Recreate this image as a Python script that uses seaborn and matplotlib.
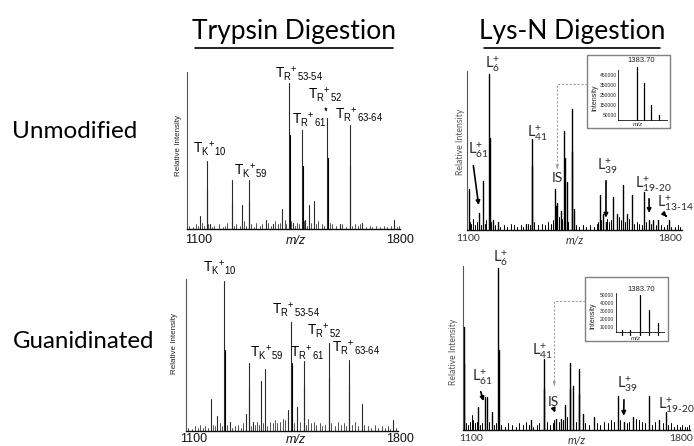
import numpy as np
import pandas as pd
import seaborn as sns
import matplotlib.pyplot as plt
from matplotlib.lines import Line2D
from matplotlib.patches import Rectangle, FancyArrowPatch

# ---- data (relative intensity in % of axis height, m/z) ----

# Trypsin, unmodified
tu_mz = [1103, 1127, 1138, 1214, 1251, 1273, 1333, 1358, 1389, 1414, 1426, 1459, 1470, 1483, 1499, 1547, 1591, 1625, 1669, 1779]
tu_int = [8, 43, 3, 31, 15, 31, 6, 3, 13, 93, 4, 63, 6, 15, 18, 71, 3, 66, 4, 6]
tu_iso_mz = [1129, 1216, 1275, 1416, 1461, 1549, 1627]
tu_iso_int = [25, 18, 18, 60, 40, 45, 40]
tu_noise_mz = [1066, 1079, 1090, 1097, 1110, 1116, 1133, 1145, 1152, 1171,
               1183, 1190, 1199, 1222, 1230, 1242, 1258, 1265, 1281, 1290,
               1300, 1312, 1321, 1340, 1349, 1366, 1374, 1381, 1398, 1404,
               1420, 1433, 1441, 1448, 1464, 1477, 1490, 1507, 1516, 1528,
               1537, 1555, 1563, 1578, 1599, 1611, 1633, 1645, 1652, 1661,
               1680, 1694, 1703, 1718, 1731, 1744, 1756, 1767, 1788, 1795]
tu_noise_int = [2, 1, 3, 2, 4, 2, 3, 1, 2, 3,
                1, 2, 4, 2, 3, 2, 5, 2, 3, 1,
                4, 2, 3, 4, 2, 5, 3, 4, 6, 3,
                5, 2, 4, 3, 5, 2, 4, 3, 5, 3,
                2, 4, 3, 2, 3, 1, 2, 3, 2, 3,
                1, 2, 1, 2, 1, 2, 1, 2, 1, 2]

# Lys-N, unmodified
lu_mz = [1104, 1138, 1153, 1174, 1188, 1205, 1301, 1321, 1403, 1410, 1421, 1433, 1442, 1459,
         1468, 1557, 1569, 1578, 1604, 1615, 1638, 1650, 1667, 1710, 1728, 1742, 1759, 1796]
lu_int = [26, 11, 31, 98, 6, 5, 4, 57, 26, 17, 12, 62, 30, 76,
          13, 22, 10, 5, 21, 10, 28, 10, 22, 24, 6, 6, 6, 6]
lu_iso_mz = [1176, 1323, 1405, 1435, 1461]
lu_iso_int = [58, 40, 15, 45, 50]
lu_noise_mz = [1108, 1112, 1118, 1125, 1131, 1145, 1158, 1164, 1180, 1195,
               1212, 1224, 1236, 1248, 1259, 1270, 1282, 1292, 1309, 1315,
               1330, 1342, 1355, 1366, 1378, 1388, 1395, 1415, 1426, 1448,
               1474, 1486, 1498, 1510, 1522, 1535, 1546, 1552, 1562, 1583,
               1588, 1596, 1622, 1630, 1645, 1658, 1674, 1684, 1694, 1703,
               1718, 1735, 1750, 1768, 1780, 1790, 1805, 1818, 1828, 1836]
lu_noise_int = [5, 4, 7, 3, 5, 3, 4, 6, 5, 3,
                2, 3, 2, 4, 3, 2, 3, 2, 4, 3,
                5, 3, 4, 3, 5, 4, 6, 8, 7, 5,
                3, 2, 3, 2, 3, 2, 4, 5, 6, 7,
                5, 6, 8, 6, 5, 7, 4, 5, 4, 3,
                5, 4, 3, 3, 2, 3, 2, 2, 3, 2]

# Trypsin, guanidinated
gu_mz = [1140, 1162, 1185, 1205, 1262, 1271, 1285, 1313, 1327, 1409, 1420, 1441, 1463, 1551, 1621, 1666, 1774]
gu_int = [21, 10, 99, 6, 11, 45, 6, 33, 41, 14, 72, 16, 46, 58, 47, 18, 7]
gu_iso_mz = [1187, 1273, 1422, 1465, 1553, 1623]
gu_iso_int = [53, 28, 45, 30, 35, 30]
gu_noise_mz = [1060, 1072, 1085, 1094, 1103, 1112, 1120, 1131, 1148, 1155,
               1170, 1178, 1195, 1213, 1222, 1233, 1244, 1252, 1280, 1293,
               1300, 1306, 1320, 1336, 1345, 1356, 1364, 1372, 1381, 1392,
               1400, 1430, 1450, 1471, 1480, 1489, 1498, 1508, 1520, 1528,
               1538, 1560, 1572, 1583, 1594, 1604, 1612, 1631, 1643, 1652,
               1675, 1688, 1700, 1712, 1723, 1736, 1748, 1758, 1766, 1786]
gu_noise_int = [2, 1, 3, 2, 4, 2, 3, 2, 4, 3,
                5, 3, 4, 2, 3, 4, 2, 5, 3, 4,
                6, 4, 5, 3, 6, 5, 7, 5, 6, 8,
                7, 5, 6, 4, 8, 5, 6, 4, 5, 3,
                4, 5, 3, 6, 4, 5, 3, 4, 6, 3,
                4, 3, 2, 4, 2, 3, 2, 3, 1, 2]

# Lys-N, guanidinated
lg_mz = [1073, 1121, 1143, 1152, 1166, 1188, 1296, 1340, 1382, 1399, 1410,
         1427, 1438, 1458, 1471, 1507, 1588, 1608, 1638, 1693, 1727, 1749]
lg_int = [63, 14, 20, 20, 11, 99, 6, 43, 7, 7, 15,
          41, 27, 37, 10, 8, 21, 5, 8, 21, 6, 11]
lg_iso_mz = [1075, 1190, 1342, 1429, 1460]
lg_iso_int = [40, 49, 25, 25, 22]
lg_noise_mz = [1080, 1088, 1095, 1104, 1110, 1116, 1128, 1134, 1158, 1174,
               1180, 1198, 1210, 1222, 1234, 1246, 1258, 1270, 1282, 1290,
               1305, 1318, 1326, 1352, 1362, 1370, 1390, 1404, 1418, 1447,
               1480, 1492, 1518, 1530, 1542, 1555, 1566, 1576, 1597, 1618,
               1626, 1648, 1658, 1668, 1678, 1702, 1712, 1738, 1758, 1768,
               1777, 1786, 1795, 1804, 1812, 1820, 1826, 1100, 1376, 1650]
lg_noise_int = [4, 3, 5, 6, 4, 5, 3, 4, 5, 3,
                4, 3, 2, 4, 3, 2, 4, 3, 5, 3,
                2, 3, 4, 5, 3, 4, 5, 6, 8, 5,
                4, 3, 4, 3, 5, 4, 6, 5, 6, 4,
                5, 4, 6, 5, 4, 3, 5, 4, 3, 4,
                2, 3, 2, 3, 2, 2, 3, 9, 6, 7]

# insets (internal standard isotope cluster)
ins_u_mz = [1383.70, 1384.70, 1385.70, 1386.70]
ins_u_int = [524000, 364000, 147000, 47000]
ins_u_ticks = [50000, 150000, 250000, 350000, 450000]
ins_g_mz = [1381.76, 1382.60, 1383.70, 1384.70, 1385.70]
ins_g_int = [6500, 6200, 50000, 32000, 16000]
ins_g_ticks = [10000, 20000, 30000, 40000, 50000]

# ---- figure ----
sns.set_theme(style='white')
plt.rcParams['font.family'] = ['Liberation Sans', 'DejaVu Sans']
plt.rcParams['mathtext.default'] = 'regular'

W, H = 694, 446
fig = plt.figure(figsize=(W / 100, H / 100), dpi=100)


def P(x, y):
    return (x / W, 1 - y / H)


def rect(l, t, r, b):
    return [l / W, 1 - b / H, (r - l) / W, (b - t) / H]


def label(x, y, s, **kw):
    fig.text(x / W, 1 - y / H, s, **kw)


def spectrum(ax, mz, inten, color, lw):
    n = len(mz)
    df = pd.DataFrame({
        'mz': np.repeat(mz, 2),
        'y': np.column_stack([np.zeros(n), inten]).ravel(),
        'peak': np.repeat(np.arange(n), 2),
    })
    sns.lineplot(data=df, x='mz', y='y', units='peak', estimator=None, sort=False,
                 color=color, lw=lw, ax=ax, legend=False)


def panel(box, xlim, main, iso, noise, color, lw):
    ax = fig.add_axes(rect(*box))
    spectrum(ax, noise[0], noise[1], color, lw * 0.7)
    spectrum(ax, iso[0], iso[1], 'black', lw)
    spectrum(ax, main[0], main[1], color, lw)
    ax.set_xlim(*xlim)
    ax.set_ylim(0, 100)
    ax.set(xticks=[], yticks=[], xlabel='', ylabel='')
    sns.despine(ax=ax)
    ax.spines['left'].set_color('#555555')
    ax.spines['left'].set_linewidth(0.8)
    ax.spines['bottom'].set_color('#111111')
    ax.spines['bottom'].set_linewidth(1.0)
    ax.patch.set_alpha(0)
    return ax


def inset(box, xlim, ylim, mz, inten, ticks):
    ax = fig.add_axes(rect(*box))
    spectrum(ax, mz, inten, 'black', 0.9)
    for ln in ax.lines:
        ln.set_clip_on(False)
    ax.set_xlim(*xlim)
    ax.set_ylim(*ylim)
    ax.set(xticks=[], xlabel='', ylabel='')
    ax.set_yticks(ticks)
    ax.set_yticklabels([str(t) for t in ticks], fontsize=3.6, color='#222222')
    ax.tick_params(axis='y', length=0, pad=1)
    sns.despine(ax=ax)
    for s in ['left', 'bottom']:
        ax.spines[s].set_color('#111111')
        ax.spines[s].set_linewidth(0.6)
    ax.patch.set_alpha(0)
    return ax


ax_tu = panel((187, 72, 400, 229), (1058.2, 1800), (tu_mz, tu_int), (tu_iso_mz, tu_iso_int),
              (tu_noise_mz, tu_noise_int), '#2a2a2a', 0.8)
ax_lu = panel((467, 71, 682, 230), (1096.5, 1841.6), (lu_mz, lu_int), (lu_iso_mz, lu_iso_int),
              (lu_noise_mz, lu_noise_int), 'black', 1.0)
ax_gu = panel((186, 279, 398, 431), (1052.4, 1793.2), (gu_mz, gu_int), (gu_iso_mz, gu_iso_int),
              (gu_noise_mz, gu_noise_int), '#2a2a2a', 0.8)
ax_lg = panel((463, 266, 690, 430), (1070, 1830), (lg_mz, lg_int), (lg_iso_mz, lg_iso_int),
              (lg_noise_mz, lg_noise_int), 'black', 1.0)

inset((618.3, 70, 666.7, 119.7), (1381.19, 1387.79), (0, 497000), ins_u_mz, ins_u_int, ins_u_ticks)
inset((615.7, 293.3, 664.3, 331.7), (1381.04, 1386.35), (4500, 52500), ins_g_mz, ins_g_int, ins_g_ticks)

# inset frames and dashed leaders to the IS peak
for l, t, r, b in [(587.3, 54.7, 669.5, 127.5), (585, 277.3, 668.3, 340.7)]:
    x0, y0 = P(l, b)
    fig.add_artist(Rectangle((x0, y0), (r - l) / W, (b - t) / H, transform=fig.transFigure,
                             fill=False, ec='#808080', lw=1.0))
for xb, yb, xd, yd in [(587.3, 84, 557.3, 171), (585, 300.5, 554.3, 388)]:
    xs, ys = zip(P(xb, yb), P(xd, yb), P(xd, yd - 5))
    fig.add_artist(Line2D(xs, ys, transform=fig.transFigure, color='#a0a0a0', lw=0.8, ls=(0, (2, 1.5))))
    fig.add_artist(FancyArrowPatch(P(xd, yd - 6), P(xd, yd), transform=fig.transFigure,
                                   arrowstyle='-|>', mutation_scale=4, color='#a0a0a0', lw=0.8))

# inset texts
label(641.7, 60.3, '1383.70', ha='center', va='center', fontsize=5.5, color='#222222')
label(595, 97.7, 'Intensity', rotation=90, ha='center', va='center', fontsize=5, color='#222222')
label(637.5, 124.5, 'm/z', ha='center', va='center', fontsize=4.5, style='italic', color='#222222')
label(641.7, 289.7, '1383.70', ha='center', va='center', fontsize=5.5, color='#222222')
label(593, 316, 'Intensity', rotation=90, ha='center', va='center', fontsize=5, color='#222222')
label(636, 338.5, 'm/z', ha='center', va='center', fontsize=4.5, style='italic', color='#222222')

# column titles and row labels
label(294, 39, 'Trypsin Digestion', ha='center', va='baseline', fontsize=19, family='Lato', color='black')
label(572, 39, 'Lys-N Digestion', ha='center', va='baseline', fontsize=19, family='Lato', color='black')
for x0, x1 in [(195, 393), (484, 660)]:
    xs, ys = zip(P(x0, 47.5), P(x1, 47.5))
    fig.add_artist(Line2D(xs, ys, transform=fig.transFigure, color='black', lw=1.2))
label(12, 138.5, 'Unmodified', ha='left', va='baseline', fontsize=17.5, family='Lato', color='black')
label(13, 347.5, 'Guanidinated', ha='left', va='baseline', fontsize=17.3, family='Lato', color='black')

# axis texts
for x, y in [(178, 145), (175, 344)]:
    label(x, y, 'Relative Intensity', rotation=90, ha='center', va='center', fontsize=5.8, color='#222222')
for x, y in [(460.5, 141.7), (454, 351.7)]:
    label(x, y, 'Relative Intensity', rotation=90, ha='center', va='center', fontsize=6.2,
          family='Lato', color='#555555')
for (x1, x2, xm, y) in [(199, 400, 296, 240), (194, 400, 296, 439)]:
    label(x1, y, '1100', ha='center', va='center', fontsize=9, color='#111111')
    label(x2, y, '1800', ha='center', va='center', fontsize=9, color='#111111')
    label(xm, y + 1, 'm/z', ha='center', va='center', fontsize=9, style='italic', color='#111111')
for (x1, x2, xm, y) in [(468, 670, 575, 238.5), (471, 681.5, 576.5, 438.5)]:
    label(x1, y, '1100', ha='center', va='center', fontsize=7.5, family='Lato', color='#333333')
    label(x2, y, '1800', ha='center', va='center', fontsize=7.5, family='Lato', color='#333333')
    label(xm, y + 2, 'm/z', ha='center', va='center', fontsize=8, style='italic', family='Lato', color='#333333')

# trypsin peak labels
hy = '\u2010'
tryp = {
    'K10': r'$\mathregular{T_K{}^{+}{}_{10}}$',
    'K59': r'$\mathregular{T_K{}^{+}{}_{59}}$',
    'R5354': r'$\mathregular{T_R{}^{+}{}_{53' + hy + r'54}}$',
    'R61': r'$\mathregular{T_R{}^{+}{}_{61}}$',
    'R52': r'$\mathregular{T_R{}^{+}{}_{52}}$',
    'R6364': r'$\mathregular{T_R{}^{+}{}_{63' + hy + r'64}}$',
}
tu_pos = {'K10': (193, 158), 'K59': (234, 180), 'R5354': (275, 83), 'R61': (292, 129),
          'R52': (308, 104), 'R6364': (335, 124)}
gu_pos = {'K10': (203, 277), 'K59': (250, 362), 'R5354': (272, 319), 'R61': (290, 362),
          'R52': (307, 340), 'R6364': (332, 357)}
for pos in (tu_pos, gu_pos):
    for k, (x, y) in pos.items():
        label(x, y, tryp[k], ha='left', va='bottom', fontsize=9.8, color='black')
ax_tu.annotate('', xy=(1546, 73), xytext=P(325, 105), textcoords='figure fraction',
               arrowprops=dict(arrowstyle='-|>', color='#222222', lw=0.6, mutation_scale=4))

# Lys-N peak labels
def lys(sub):
    return r'$\mathregular{L^{+}_{' + sub + '}}$'


lk = dict(ha='left', va='bottom', fontsize=10.5, family='Lato', color='#2a2a2a')
arr = dict(arrowstyle='-|>', color='black', lw=1.2, mutation_scale=6)
label(485, 74, lys('6'), **lk)
label(468, 160, lys('61'), **lk)
label(527, 143, lys('41'), **lk)
label(597, 176, lys('39'), **lk)
label(635, 194, lys('19' + hy + '20'), **lk)
label(657, 213, lys('13' + hy + '14'), **lk)
label(557.5, 177.5, 'IS', ha='center', va='center', fontsize=10, family='Lato', color='#2a2a2a')
ax_lu.annotate('', xy=(1138, 14), xytext=P(473, 163), textcoords='figure fraction', arrowprops=arr)
ax_lu.annotate('', xy=(1578, 6), xytext=P(606, 178), textcoords='figure fraction', arrowprops=arr)
ax_lu.annotate('', xy=(1728, 9), xytext=P(649, 196), textcoords='figure fraction', arrowprops=arr)
ax_lu.annotate('', xy=(1795, 7), xytext=P(664, 214), textcoords='figure fraction', arrowprops=arr)

label(493, 268, lys('6'), **lk)
label(472, 387, lys('61'), **lk)
label(532, 361, lys('41'), **lk)
label(617, 394, lys('39'), **lk)
label(658, 415, lys('19' + hy + '20'), **lk)
label(553.3, 401.5, 'IS', ha='center', va='center', fontsize=10, family='Lato', color='#2a2a2a')
ax_lg.annotate('', xy=(1141, 16), xytext=P(480, 389), textcoords='figure fraction', arrowprops=arr)
ax_lg.annotate('', xy=(1382, 9), xytext=P(553, 407), textcoords='figure fraction', arrowprops=arr)
ax_lg.annotate('', xy=(1608, 7), xytext=P(624, 397), textcoords='figure fraction', arrowprops=arr)

fig.savefig('out.png', dpi=100)
